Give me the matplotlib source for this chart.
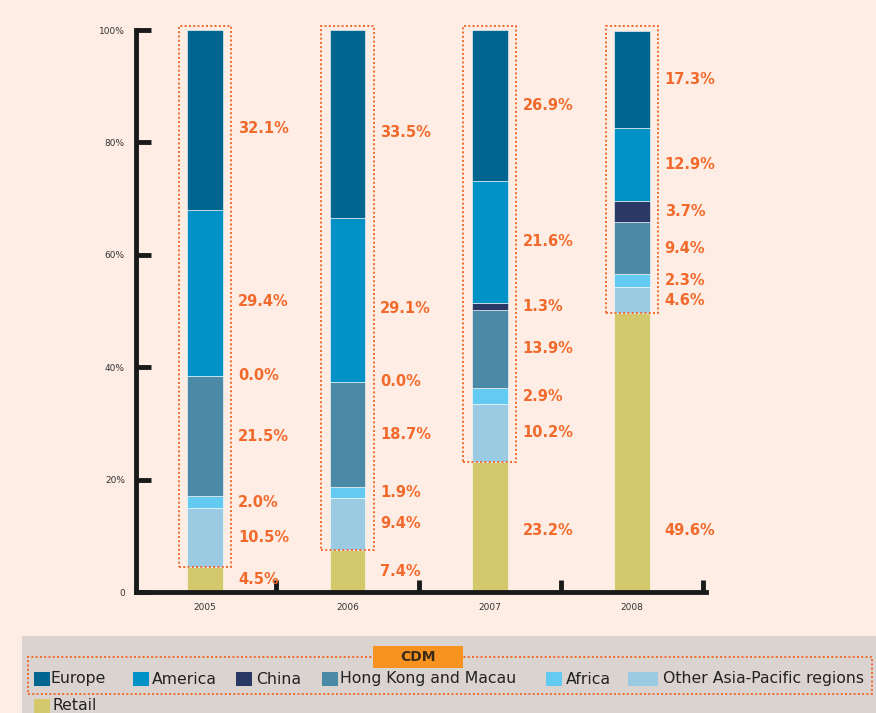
import matplotlib
matplotlib.use("Agg")
import matplotlib.pyplot as plt
from matplotlib.patches import Rectangle
import numpy as np

years = ["2005", "2006", "2007", "2008"]
series = ["Retail", "Other Asia-Pacific regions", "Africa", "Hong Kong and Macau",
          "China", "America", "Europe"]
retail = [4.5, 7.4, 23.2, 49.6]
other_asia = [10.5, 9.4, 10.2, 4.6]
africa = [2.0, 1.9, 2.9, 2.3]
hk_macau = [21.5, 18.7, 13.9, 9.4]
china = [0.0, 0.0, 1.3, 3.7]
america = [29.4, 29.1, 21.6, 12.9]
europe = [32.1, 33.5, 26.9, 17.3]
values = [retail, other_asia, africa, hk_macau, china, america, europe]
colors = ["#D3C86B", "#9ACBE2", "#63CBF1", "#4A8AA7", "#2A3865", "#0092C6", "#01668F"]
yticks = [0, 20, 40, 60, 80, 100]
yticklabels = ["0", "20%", "40%", "60%", "80%", "100%"]

BG = "#FDEDE5"
ORANGE = "#F26A2B"

fig = plt.figure(figsize=(8.76, 7.13), dpi=100, facecolor=BG)
W, H = 876, 713
ax = fig.add_axes([136 / W, 1 - 592 / H, (706 - 136) / W, (592 - 30) / H])
ax.set_facecolor(BG)

x = np.arange(len(years))
bw = 0.25
bottom = np.zeros(len(years))
for si, (vals, col) in enumerate(zip(values, colors)):
    v = np.array(vals)
    ax.bar(x, v, bw, bottom=bottom, color=col, edgecolor="white", linewidth=0.4, zorder=2)
    for i in range(len(years)):
        yc = bottom[i] + v[i] / 2
        if si == 0:
            yc = min(yc, 11.0)
        elif si >= 5 and v[i] > 28:
            yc -= 1.5
        ax.text(x[i] + bw / 2 + 0.105, yc, f"{v[i]:.1f}%", color=ORANGE, fontsize=10.5,
                fontweight="bold", va="center", ha="left", zorder=4)
    bottom += v

# dotted boxes around CDM portion
for i in range(len(years)):
    r = retail[i]
    rect = Rectangle((x[i] - 0.185, r), 0.37, 100.7 - r, fill=False, edgecolor=ORANGE,
                     linestyle=(0, (1, 1.2)), linewidth=1.4, zorder=3, clip_on=False)
    ax.add_patch(rect)

ax.set_xlim(-0.486, 3.52)
ax.set_ylim(0, 100)
for s in ["top", "right"]:
    ax.spines[s].set_visible(False)
for s in ["left", "bottom"]:
    ax.spines[s].set_linewidth(3.5)
    ax.spines[s].set_color("#1a1a1a")
ax.set_yticks(yticks)
ax.set_yticklabels(yticklabels)
ax.tick_params(axis="y", direction="in", length=11, width=3.5, color="#1a1a1a",
               labelsize=6.5, labelcolor="#333333", pad=8)
ax.set_xticks([0.5, 1.5, 2.5, 3.5])
ax.set_xticklabels([])
ax.tick_params(axis="x", direction="in", length=9, width=3.5, color="#1a1a1a")
for i, yr in enumerate(years):
    ax.text(x[i], -2.0, yr, ha="center", va="top", fontsize=6.5, color="#333333")

# legend area
fig.patches.append(Rectangle((22 / W, 0), 1 - 22 / W, (713 - 636) / H,
                             transform=fig.transFigure, facecolor="#DAD3CF",
                             edgecolor="none", zorder=0))
fig.patches.append(Rectangle((28 / W, 1 - 694 / H), (872 - 28) / W, (694 - 657) / H,
                             transform=fig.transFigure, fill=False, edgecolor=ORANGE,
                             linestyle=(0, (1, 1.2)), linewidth=1.4, zorder=1))
fig.patches.append(Rectangle((373 / W, 1 - 668 / H), 90 / W, 22 / H,
                             transform=fig.transFigure, facecolor="#F7931E",
                             edgecolor="none", zorder=2))
fig.text(418 / W, 1 - 657 / H, "CDM", ha="center", va="center", fontsize=10,
         fontweight="bold", color="#3A2A1A", zorder=3)

legend_items = [("Europe", 6, 34, 50, 679), ("America", 5, 133, 152, 679),
                ("China", 4, 236, 256, 679), ("Hong Kong and Macau", 3, 322, 340, 679),
                ("Africa", 2, 546, 566, 679), ("Other Asia-Pacific regions", 1, 628, 663, 679),
                ("Retail", 0, 34, 52, 706)]
for label, ci, sx, tx, yy in legend_items:
    sw = 30 if ci == 1 else 16
    fig.patches.append(Rectangle((sx / W, 1 - (yy + 7) / H), sw / W, 14 / H,
                                 transform=fig.transFigure, facecolor=colors[ci],
                                 edgecolor="none", zorder=2))
    fig.text(tx / W, 1 - yy / H, label, ha="left", va="center", fontsize=11.3,
             color="#222222", zorder=3)

fig.savefig("out.png", dpi=100, facecolor=BG)
